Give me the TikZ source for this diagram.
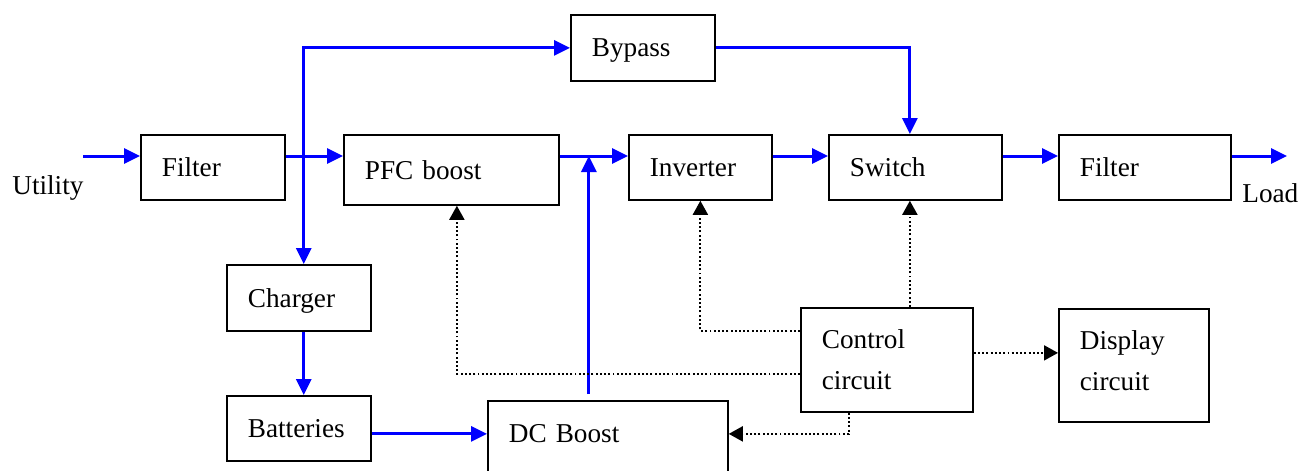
\documentclass[tikz,border=0pt]{standalone}
\usepackage{fontspec}
\setmainfont{Liberation Serif}
\usetikzlibrary{arrows.meta, calc}

\begin{document}
\begin{tikzpicture}[
    font=\fontsize{15.5}{23.3}\selectfont,
    bloque/.style 2 args={draw, line width=1pt, align=left, anchor=north west,
        inner xsep=0.42cm, inner ysep=0pt, text depth=0pt,
        text width=#1, minimum height=#2},
    rotulo/.style={anchor=base west, inner sep=0pt},
    potencia/.style={blue, line width=1.7pt, -{Triangle[length=0.32cm, width=0.3cm]}},
    control/.style={black, line width=1.1pt, dash pattern=on 1.1pt off 1.3pt,
        -{Triangle[length=0.28cm, width=0.3cm]}}
]
    \useasboundingbox (0,0) rectangle (25.98,-9.4);
    % Bloques de potencia
    \node[bloque={2.04cm}{1.3cm}] (fil1) at (2.8,-2.68) {Filter};
    \node[bloque={3.46cm}{1.4cm}] (pfc) at (6.86,-2.68) {PFC boost};
    \node[bloque={2.02cm}{1.3cm}] (inv) at (12.56,-2.68) {Inverter};
    \node[bloque={2.62cm}{1.3cm}] (swc) at (16.56,-2.68) {Switch};
    \node[bloque={2.6cm}{1.3cm}] (fil2) at (21.16,-2.68) {Filter};
    \node[bloque={2.04cm}{1.32cm}] (byp) at (11.4,-0.28) {Bypass};
    % Rama de baterias
    \node[bloque={2.04cm}{1.32cm}] (chg) at (4.52,-5.28) {Charger};
    \node[bloque={2.04cm}{1.3cm}] (bat) at (4.52,-7.9) {Batteries};
    \node[bloque={3.96cm}{1.8cm}, text depth=0.49cm] (dcb) at (9.74,-8.0) {DC Boost};
    % Control y display
    \node[bloque={2.6cm}{2.08cm}, text depth=0.82cm] (ctl) at (16.0,-6.14) {Control\\circuit};
    \node[bloque={2.16cm}{2.26cm}, text depth=1.0cm] (dsp) at (21.16,-6.16) {Display\\circuit};
    % Entrada y salida
    \node[rotulo] (utl) at (0.24,-3.88) {Utility};
    \node[rotulo] (lod) at (24.84,-4.04) {Load};
    \coordinate (ent) at (1.66,-3.12);
    \coordinate (sal) at (25.74,-3.12);
    \coordinate (pfco) at ([yshift=-0.44cm]pfc.north east);
    \coordinate (jn) at ($([yshift=-0.44cm]fil1.north east)+(0.36,0)$);
    \coordinate (swa) at ([xshift=-0.11cm]swc.north);
    \coordinate (swb) at ([xshift=-0.11cm]swc.south);
    \coordinate (dcu) at ([xshift=-0.38cm,yshift=0.12cm]dcb.north);
    \coordinate (bto) at ([yshift=-0.11cm]bat.east);
    % Flujo de potencia
    \draw[potencia] (ent) -- ([yshift=-0.44cm]fil1.north west);
    \draw[potencia] ([yshift=-0.44cm]fil1.north east) -- ([yshift=-0.44cm]pfc.north west);
    \draw[potencia] (jn) |- (byp.west);
    \draw[potencia] (jn) -- (jn |- chg.north);
    \draw[potencia] (jn |- chg.south) -- (jn |- bat.north);
    \draw[potencia] (bto) -- (bto -| dcb.west);
    \draw[potencia] (byp.east) -| (swa);
    \draw[potencia] (pfco) -- ([yshift=-0.44cm]inv.north west);
    \draw[potencia] (dcu) -- (dcu |- pfco);
    \draw[potencia] ([yshift=-0.44cm]inv.north east) -- ([yshift=-0.44cm]swc.north west);
    \draw[potencia] ([yshift=-0.44cm]swc.north east) -- ([yshift=-0.44cm]fil2.north west);
    \draw[potencia] ([yshift=-0.44cm]fil2.north east) -- (sal);
    % Senales de control
    \draw[control] ([yshift=-0.28cm]ctl.west) -| ([xshift=0.11cm]pfc.south);
    \draw[control] ([yshift=0.58cm]ctl.west) -| (inv.south);
    \draw[control] (swb |- ctl.north) -- (swb);
    \draw[control] ([yshift=0.14cm]ctl.east) -- ([yshift=0.14cm]ctl.east -| dsp.west);
    \draw[control] ([xshift=-0.76cm]ctl.south) |- (bto -| dcb.east);
\end{tikzpicture}
\end{document}
